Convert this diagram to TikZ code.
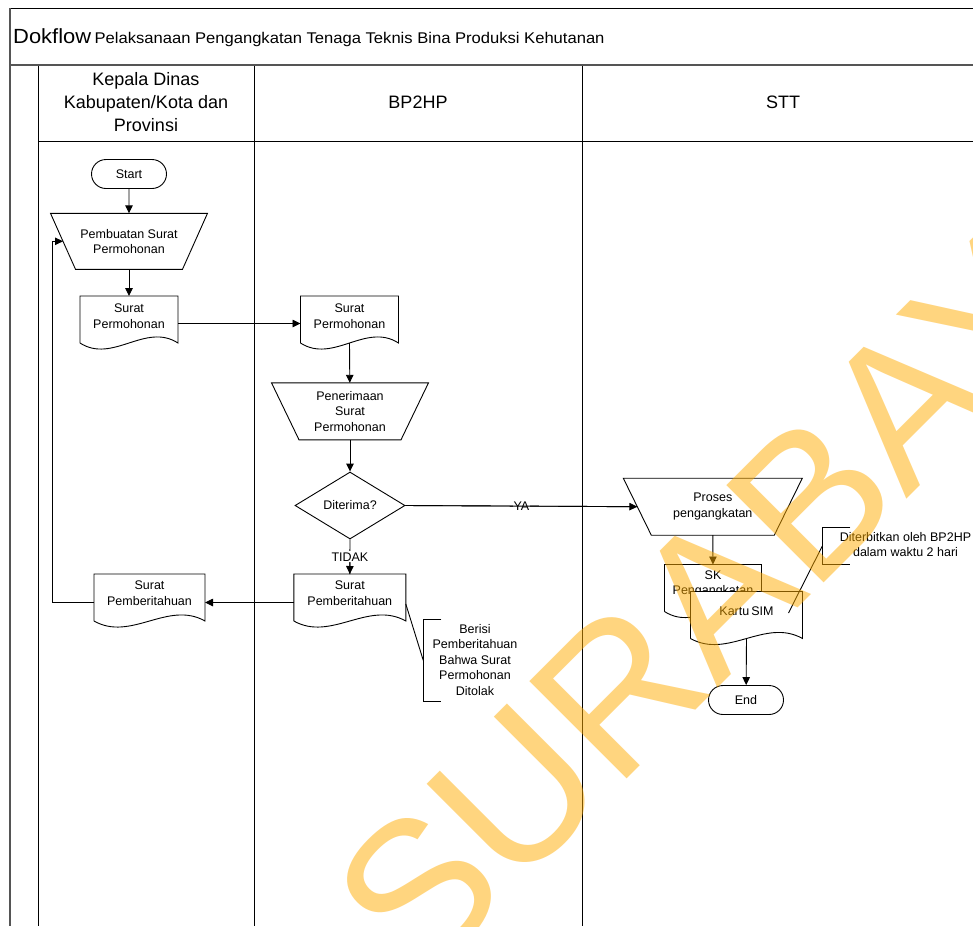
\documentclass[tikz,border=0pt]{standalone}
\usepackage{fontspec}
\setmainfont{Liberation Sans}
\newfontfamily\titlefont[FakeStretch=1.07]{Liberation Sans}
\usetikzlibrary{shapes.geometric,shapes.misc,arrows.meta,calc}

\definecolor{wmorange}{RGB}{255,172,0}
\definecolor{bandgray}{RGB}{85,85,85}

% document symbol: rectangle with a wavy lower edge, filled white
\newcommand\wavedoc[3]{%
  \node[docbox, minimum width=#3] (#1) at #2 {};
  \filldraw[fill=white, shapeline] (#1.south west) -- (#1.north west) -- (#1.north east)
    -- (#1.south east) .. controls +(-#3/3,-21) and +(#3/3,21) .. (#1.south west);
}
% manual operation symbol: trapezoid, long side on top
\newcommand\manualop[6]{%
  \node[txt, outer sep=0pt, minimum width=#3, minimum height=#4] (#1) at #2 {#6};
  \draw[shapeline] (#1.north west) -- (#1.north east) -- ([xshift=-#5]#1.south east)
    -- ([xshift=#5]#1.south west) -- cycle;
}

\begin{document}
\begin{tikzpicture}[x=1pt,y=-1pt,
  shapeline/.style={line width=0.9pt},
  arr/.style={-{Triangle[length=8pt,width=7.5pt]}, line width=0.9pt},
  txt/.style={font=\fontsize{12.5}{15.5}\selectfont, align=center, inner sep=0pt},
  hdr/.style={font=\fontsize{18}{23}\selectfont, align=center, inner sep=0pt},
  term/.style={draw, shapeline, rounded rectangle, minimum width=75pt, minimum height=29pt, inner sep=0pt, txt},
  decide/.style={draw, shapeline, diamond, aspect=1.64, minimum width=110pt, minimum height=67pt, inner sep=0pt, txt},
  docbox/.style={inner sep=0pt, outer sep=0pt, minimum height=47pt},
  tag/.style={txt, fill=white, inner xsep=1pt, inner ysep=1pt},
]
\useasboundingbox (0,0) rectangle (973,926);
\clip (0,0) rectangle (973,926);
\fill[white] (0,0) rectangle (973,926);

% ---- frame, title band, swimlanes ----
\draw[line width=0.9pt] (10,8) -- (973,8);
\draw[bandgray, line width=2pt] (10,8) -- (10,926);
\draw[bandgray, line width=2.6pt] (10,65) -- (973,65);
\draw[line width=1pt] (38,66) -- (38,926);
\draw[line width=1pt] (254,66) -- (254,926);
\draw[line width=1pt] (582,66) -- (582,926);
\draw[line width=1pt] (38,141.5) -- (973,141.5);

\node[anchor=base west, inner sep=0pt] (title) at (13,43)
  {\titlefont\fontsize{20.5}{24}\selectfont Dokflow\,{\fontsize{15.5}{18}\selectfont Pelaksanaan Pengangkatan Tenaga Teknis Bina Produksi Kehutanan}};

\node[hdr] (laneA) at (146,102) {Kepala Dinas\\Kabupaten/Kota dan\\Provinsi};
\node[hdr] (laneB) at (418,102) {BP2HP};
\node[hdr] (laneC) at (783,102) {STT};

% ---- Kepala Dinas lane ----
\node[term] (start) at (129,174) {Start};
\manualop{pemb}{(129,241.3)}{157}{56}{25}{Pembuatan Surat\\Permohonan}
\wavedoc{sp1}{(129,319.5)}{98}
\node[txt] (sp1t) at (129,316) {Surat\\Permohonan};
\wavedoc{pb1}{(149.5,597.5)}{111}
\node[txt] (pb1t) at (149.5,593) {Surat\\Pemberitahuan};

% ---- BP2HP lane ----
\wavedoc{sp2}{(349.5,319.5)}{98}
\node[txt] (sp2t) at (349.5,316) {Surat\\Permohonan};
\manualop{pener}{(350,411.3)}{157}{57}{27.5}{Penerimaan\\Surat\\Permohonan}
\node[decide] (dit) at (350,505.5) {Diterima?};
\wavedoc{pb2}{(349.8,597.5)}{112}
\node[txt] (pb2t) at (349.8,593) {Surat\\Pemberitahuan};
\node[txt] (note1) at (475,660) {Berisi\\Pemberitahuan\\Bahwa Surat\\Permohonan\\Ditolak};
\coordinate (br1) at (423.3,660.5);

% ---- STT lane ----
\manualop{proses}{(712.8,506.7)}{179}{57}{28}{Proses\\pengangkatan}
\wavedoc{sk}{(713,588)}{97}
\node[txt] (skt) at (713,584) {SK\\Pengangkatan};
\wavedoc{kartu}{(746.5,615)}{112}
\node[txt] (kartut) at (746.5,611) {Kartu\,SIM};
\node[term] (end) at (746,700) {End};
\node[txt] (note2) at (905.5,544.5) {Diterbitkan oleh BP2HP\\dalam waktu 2 hari};
\coordinate (br2) at (822.3,546);

% ---- connectors ----
\draw[arr] (start) -- (pemb);
\draw[arr] (pemb) -- (sp1);
\draw[arr] ([yshift=-4pt]sp1.east) -- ([yshift=-4pt]sp2.west);
\draw[arr] (sp2.south) -- (pener);
\draw[arr] (pener) -- (dit);
\draw[shapeline] (dit.east) -- node[tag] (ya) {YA} ([xshift=14pt]proses.west);
\draw[arr] (dit.east) -- ([xshift=14pt]proses.west);
\draw[shapeline] (dit.south) -- node[tag] (tidak) {TIDAK} (pb2.north);
\draw[arr] (tidak.south) -- (pb2.north);
\draw[arr] ([yshift=-5pt]pb2.west) -- ([yshift=-5pt]pb1.east);
\draw[arr] ([yshift=-5pt]pb1.west) -- ++(-42,0) |- ([xshift=12.5pt]pemb.west);
\draw[arr] (proses) -- (sk);
\draw[arr] (kartu.south) -- (end);

% ---- annotations ----
\draw[shapeline] ([yshift=-6.5pt]pb2.east) -- (br1);
\draw[shapeline] ($(br1)+(18,-41)$) -- ++(-18,0) -- ++(0,82) -- ++(18,0);
\draw[shapeline] ([xshift=-14pt,yshift=2pt]kartu.east) -- (br2);
\draw[shapeline] ($(br2)+(28,-18.5)$) -- ++(-28,0) -- ++(0,37) -- ++(28,0);

% ---- watermark ----
\node[font=\fontsize{200}{200}\selectfont, text=wmorange, text opacity=0.5,
  rotate=45, anchor=base west, inner sep=0pt] (wm) at (419,987) {SURABAYA};
\end{tikzpicture}
\end{document}
